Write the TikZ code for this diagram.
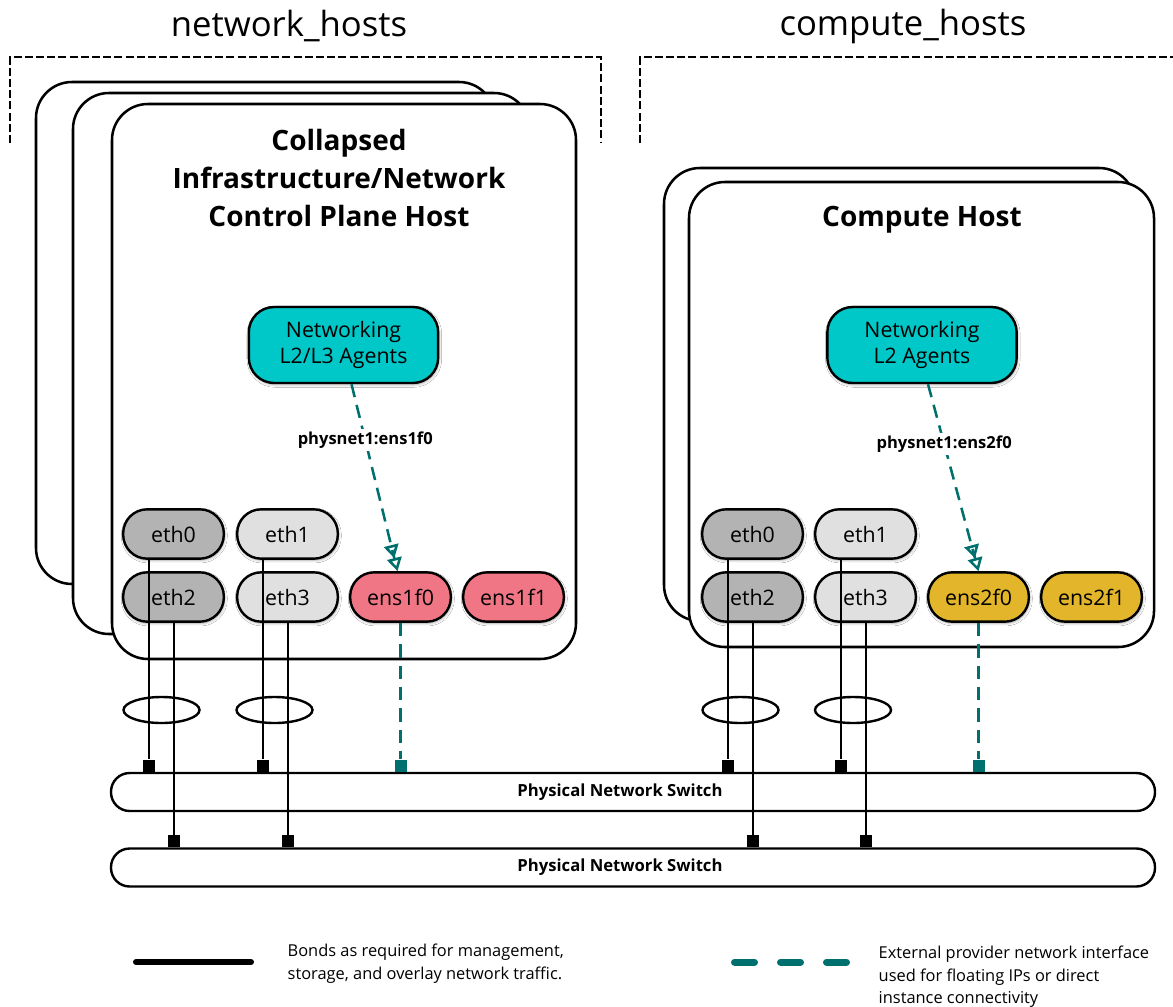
\documentclass[tikz,border=0pt]{standalone}
\usepackage{fontspec}
\setmainfont{Open Sans}
\usepackage{xcolor}
\usepackage{tikz}
\usetikzlibrary{calc}
\usetikzlibrary{arrows.meta}
\usetikzlibrary{shadows.blur}

\definecolor{agentcyan}{RGB}{0,200,200}
\definecolor{ethdark}{RGB}{179,179,179}
\definecolor{ethlight}{RGB}{224,224,224}
\definecolor{enspink}{RGB}{240,118,134}
\definecolor{ensgold}{RGB}{226,181,42}
\definecolor{provteal}{RGB}{0,112,110}

\tikzset{
	card/.style={draw,line width=1.9pt,fill=white,rounded corners=27pt},
	groupline/.style={line width=1.7pt,dash pattern=on 6pt off 2.4pt},
	grouptitle/.style={font=\fontsize{26}{30}\selectfont},
	hosttitle/.style={align=center,font=\fontsize{21}{28.5}\selectfont\bfseries},
	softshadow/.style={blur shadow={shadow xshift=0.6pt,shadow yshift=-1.2pt,shadow blur radius=2pt,shadow opacity=35}},
	agent/.style={draw,line width=1.8pt,fill=agentcyan,rounded corners=19pt,minimum width=142pt,minimum height=57pt,align=center,font=\fontsize{16}{20}\selectfont,softshadow},
	nic/.style={draw,line width=1.8pt,rounded corners=18pt,minimum width=75.5pt,minimum height=37pt,inner sep=0pt,font=\fontsize{16}{19}\selectfont,softshadow},
	switchbar/.style={draw,line width=1.8pt,rounded corners=14pt,minimum width=783pt,minimum height=28.5pt},
	switchlabel/.style={font=\fontsize{12.5}{15}\selectfont\bfseries},
	physlabel/.style={fill=white,inner sep=2pt,font=\fontsize{12.4}{15}\selectfont\bfseries},
	bond/.style={line width=1.5pt},
	bondring/.style={line width=1.8pt},
	provider/.style={draw=provteal,line width=1.9pt,dash pattern=on 10pt off 6pt},
	twotips/.style={-{Triangle[open,length=10pt,width=11pt]Triangle[open,length=10pt,width=11pt]}},
	port/.style={fill=black,minimum size=9pt,inner sep=0pt,anchor=south},
	legendtext/.style={anchor=west,align=left,font=\fontsize{12.3}{17}\selectfont},
}

\begin{document}
\begin{tikzpicture}[x=0.75pt,y=-0.75pt]
	\useasboundingbox (0,0) rectangle (1173,1006);
	% host group brackets
	\draw[groupline] (10,143) -- (10,57) -- (601,57) -- (601,143);
	\draw[groupline] (640,143) -- (640,57) -- (1173,57);
	\node[grouptitle] (nethosts) at (289,26) {network\_hosts};
	\node[grouptitle] (comphosts) at (903,26) {compute\_hosts};
	% stacked cards, back to front
	\draw[card] (36,82) rectangle (495,584);
	\draw[card] (73,93) rectangle (530,634);
	\draw[card] (112,104) rectangle (576,659);
	\draw[card] (664,168) rectangle (1135,621);
	\draw[card] (689,182) rectangle (1154,647);
	\node[hosttitle] (nettitle) at (339,178) {Collapsed\\Infrastructure/Network\\Control Plane Host};
	\node[hosttitle] (comptitle) at (922,220) {Compute Host};
	% agents
	\node[agent] (netagent) at (343.5,345) {Networking\\L2/L3 Agents};
	\node[agent] (compagent) at (922,345) {Networking\\L2 Agents};
	% interfaces, network host
	\node[nic,fill=ethdark] (neth0) at (173.5,534) {eth0};
	\node[nic,fill=ethlight] (neth1) at (287.5,534) {eth1};
	\node[nic,fill=ethdark] (neth2) at (173.5,597) {eth2};
	\node[nic,fill=ethlight] (neth3) at (287.5,597) {eth3};
	\node[nic,fill=enspink] (nens0) at (400.5,597) {ens1f0};
	\node[nic,fill=enspink] (nens1) at (513.5,597) {ens1f1};
	% interfaces, compute host
	\node[nic,fill=ethdark] (ceth0) at (752.5,534) {eth0};
	\node[nic,fill=ethlight] (ceth1) at (865.5,534) {eth1};
	\node[nic,fill=ethdark] (ceth2) at (752.5,597) {eth2};
	\node[nic,fill=ethlight] (ceth3) at (865.5,597) {eth3};
	\node[nic,fill=ensgold] (cens0) at (978.5,597) {ens2f0};
	\node[nic,fill=ensgold] (cens1) at (1091.5,597) {ens2f1};
	% switches
	\node[switchbar] (sw1) at (633,792) {};
	\node[switchbar] (sw2) at (633,867.5) {};
	\node[switchlabel] (sw1txt) at (620,792) {Physical Network Switch};
	\node[switchlabel] (sw2txt) at (620,867.5) {Physical Network Switch};
	% bond line start points (upper row leaves left of centre)
	\coordinate (ne0) at ($(neth0.south)+(-25,0)$);
	\coordinate (ne1) at ($(neth1.south)+(-25,0)$);
	\coordinate (ce0) at ($(ceth0.south)+(-25,0)$);
	\coordinate (ce1) at ($(ceth1.south)+(-25,0)$);
	% ports on the switches
	\node[port] (np0) at (ne0 |- sw1.north) {};
	\node[port] (np1) at (ne1 |- sw1.north) {};
	\node[port] (np2) at (neth2.south |- sw2.north) {};
	\node[port] (np3) at (neth3.south |- sw2.north) {};
	\node[port,fill=provteal] (npx) at (nens0.south |- sw1.north) {};
	\node[port] (cp0) at (ce0 |- sw1.north) {};
	\node[port] (cp1) at (ce1 |- sw1.north) {};
	\node[port] (cp2) at (ceth2.south |- sw2.north) {};
	\node[port] (cp3) at (ceth3.south |- sw2.north) {};
	\node[port,fill=provteal] (cpx) at (cens0.south |- sw1.north) {};
	% bonds
	\draw[bond] (ne0) -- (np0.north);
	\draw[bond] (ne1) -- (np1.north);
	\draw[bond] (neth2.south) -- (np2.north);
	\draw[bond] (neth3.south) -- (np3.north);
	\draw[bond] (ce0) -- (cp0.north);
	\draw[bond] (ce1) -- (cp1.north);
	\draw[bond] (ceth2.south) -- (cp2.north);
	\draw[bond] (ceth3.south) -- (cp3.north);
	\draw[bondring] (161.5,710) ellipse [x radius=28.5pt,y radius=9.75pt];
	\draw[bondring] (274.5,710) ellipse [x radius=28.5pt,y radius=9.75pt];
	\draw[bondring] (740.5,710) ellipse [x radius=28.5pt,y radius=9.75pt];
	\draw[bondring] (853,710) ellipse [x radius=28.5pt,y radius=9.75pt];
	% provider network
	\draw[provider,twotips] ($(netagent.south)+(8,0)$) -- ($(nens0.north)+(-3,0)$) node[physlabel,pos=0.3] (nphys) {physnet1:ens1f0};
	\draw[provider,twotips] ($(compagent.south)+(6,0)$) -- (cens0.north) node[physlabel,pos=0.32] (cphys) {physnet1:ens2f0};
	\draw[provider] (nens0.south) -- (npx.north);
	\draw[provider] (cens0.south) -- (cpx.north);
	% legend
	\coordinate (lba) at (136,962);
	\coordinate (lbb) at (251,962);
	\coordinate (lpa) at (734.5,962);
	\coordinate (lpb) at (846.5,962);
	\draw[line width=4.5pt,line cap=round] (lba) -- (lbb);
	\draw[draw=provteal,line width=5.25pt,line cap=round,dash pattern=on 15pt off 19.5pt] (lpa) -- (lpb);
	\node[legendtext] (lbtext) at (283,964) {Bonds as required for management,\\storage, and overlay network traffic.};
	\node[legendtext] (lptext) at (874,977) {External provider network interface\\used for floating IPs or direct\\instance connectivity};
\end{tikzpicture}
\end{document}
